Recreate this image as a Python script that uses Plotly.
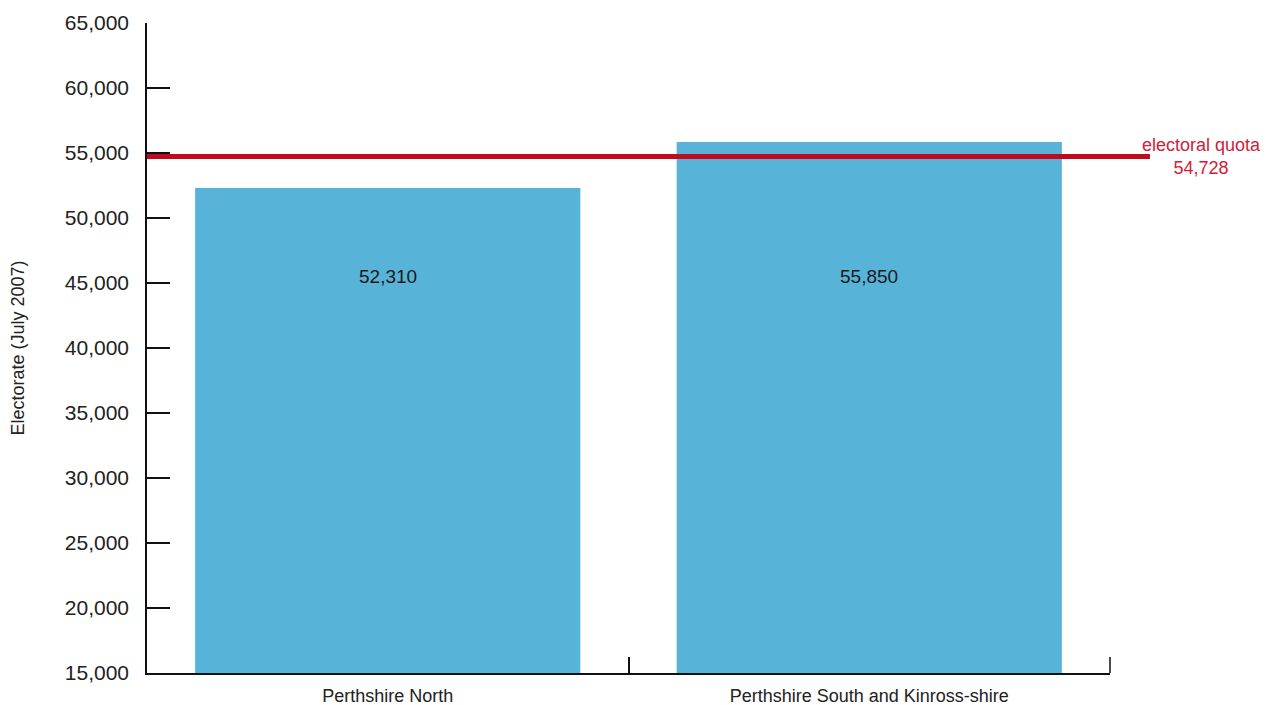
import plotly.graph_objects as go

categories = ["Perthshire North", "Perthshire South and Kinross-shire"]
electorate = [52310, 55850]
bar_labels = ["52,310", "55,850"]
quota_value = 54728
quota_label = "electoral quota<br>54,728"
label_level = 45500
y_title = "Electorate (July 2007)"

FONT = "Liberation Sans"
BAR = "#58b3d8"
RED = "#c20a1f"

fig = go.Figure()
fig.add_trace(go.Bar(
    x=categories, y=electorate,
    marker=dict(color=BAR, line=dict(width=0)),
    hoverinfo="x+y",
))

for c, t in zip(categories, bar_labels):
    fig.add_annotation(x=c, y=label_level, text=t, showarrow=False,
                       font=dict(family=FONT, size=19, color="#1a1a1a"),
                       xanchor="center", yanchor="middle")

# quota line extends beyond the plot area on the right
fig.add_shape(type="line", xref="paper", yref="y",
              x0=0, x1=1.0415, y0=quota_value, y1=quota_value,
              line=dict(color=RED, width=5), layer="above")
fig.add_annotation(xref="paper", yref="y", x=1.0945, y=quota_value,
                   text=quota_label, showarrow=False, align="center",
                   xanchor="center", yanchor="middle",
                   font=dict(family=FONT, size=18, color="#d02038"))

# right-end boundary tick of the x axis
fig.add_shape(type="line", xref="paper", yref="paper",
              x0=1, x1=1, y0=0, y1=16 / 650,
              line=dict(color="#111", width=1.5), layer="below")

fig.update_layout(
    width=1268, height=705,
    margin=dict(l=147, r=158, t=23, b=32, autoexpand=False),
    paper_bgcolor="white", plot_bgcolor="white",
    bargap=0.2,
    showlegend=False,
    font=dict(family=FONT, color="#222"),
    xaxis=dict(
        range=[-0.5, 1.5], automargin=False,
        showline=True, linecolor="#111", linewidth=1.5,
        ticks="inside", ticklen=16, tickwidth=1.5, tickcolor="#111",
        tickson="boundaries", showgrid=False, zeroline=False,
        tickfont=dict(family=FONT, size=18, color="#222"),
        ticklabelstandoff=6,
        layer="below traces",
    ),
    yaxis=dict(
        range=[15000, 65000], dtick=5000, tickformat=",",
        automargin=False,
        showline=True, linecolor="#111", linewidth=1.5,
        ticks="inside", ticklen=23, tickwidth=1.5, tickcolor="#111",
        showgrid=False, zeroline=False,
        tickfont=dict(family=FONT, size=21, color="#222"),
        ticklabelstandoff=12,
        title=dict(text=y_title, font=dict(family=FONT, size=18, color="#222"),
                   standoff=36),
        layer="below traces",
    ),
)

fig.write_html("out.html",
               config={"displayModeBar": False},
               post_script="document.body.style.margin='0';document.body.style.overflow='hidden';")
